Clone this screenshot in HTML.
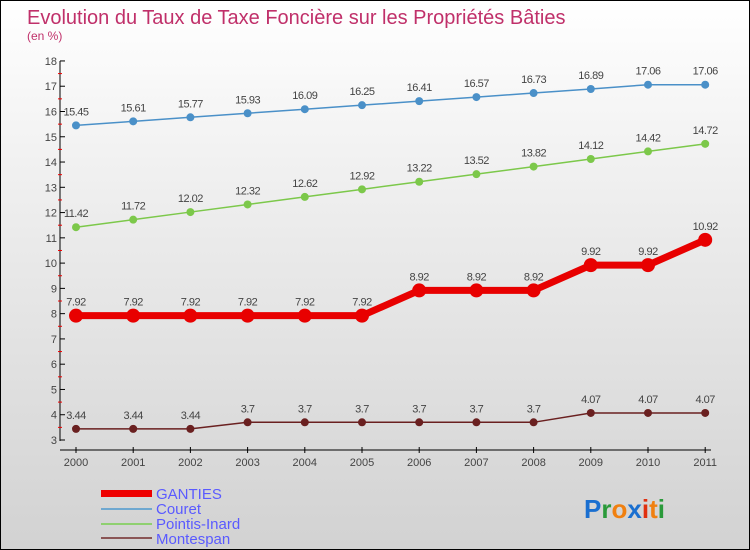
<!DOCTYPE html>
<html><head><meta charset="utf-8"><style>
body{margin:0;width:750px;height:550px;overflow:hidden;font-family:"Liberation Sans",sans-serif}
#wrap{position:relative;width:748px;height:548px;border:1px solid #000;background:linear-gradient(#fff 0%,#ececec 40%,#d2d2d2 100%)}
</style></head><body>
<div id="wrap">
<svg id="chart" width="748" height="548" style="position:absolute;left:0;top:0">
<text x="26" y="23" font-size="20" fill="#c0306a">Evolution du Taux de Taxe Foncière sur les Propriétés Bâties</text>
<text x="26" y="39" font-size="12" fill="#c0306a">(en %)</text>
<g id="axes"></g><g id="series"></g>
<g>
<rect x="100" y="489" width="51" height="7" fill="#e00"/>
<text x="155" y="498" font-size="15" fill="#5a5aff">GANTIES</text>
<rect x="100" y="507" width="51" height="2" fill="#6fa8d0"/>
<text x="155" y="513" font-size="15" fill="#5a5aff">Couret</text>
<rect x="100" y="522" width="51" height="2" fill="#8fd070"/>
<text x="155" y="528" font-size="15" fill="#5a5aff">Pointis-Inard</text>
<rect x="100" y="536" width="51" height="2" fill="#8a5555"/>
<text x="155" y="543" font-size="15" fill="#5a5aff">Montespan</text>
</g>
<text x="583" y="517" font-size="26" font-weight="bold"><tspan fill="#1a6fd0">P</tspan><tspan fill="#2a9a3a">r</tspan><tspan fill="#f08010">o</tspan><tspan fill="#1a6fd0">x</tspan><tspan fill="#e03010">i</tspan><tspan fill="#f08010">t</tspan><tspan fill="#2a9a3a">i</tspan></text>
</svg></div>
<script>
const years=[2000,2001,2002,2003,2004,2005,2006,2007,2008,2009,2010,2011];
const couret=[15.45,15.61,15.77,15.93,16.09,16.25,16.41,16.57,16.73,16.89,17.06,17.06];
const pointis=[11.42,11.72,12.02,12.32,12.62,12.92,13.22,13.52,13.82,14.12,14.42,14.72];
const ganties=[7.92,7.92,7.92,7.92,7.92,7.92,8.92,8.92,8.92,9.92,9.92,10.92];
const montespan=[3.44,3.44,3.44,3.7,3.7,3.7,3.7,3.7,3.7,4.07,4.07,4.07];
const yTicks=[3,4,5,6,7,8,9,10,11,12,13,14,15,16,17,18];
const NS="http://www.w3.org/2000/svg";
const xs=i=>75+i*57.2;
const ys=v=>439-(v-3)*25.27;
function mk(p,t,a){const e=document.createElementNS(NS,t);for(const k in a)e.setAttribute(k,a[k]);p.appendChild(e);return e;}
const ax=document.getElementById('axes');
let l=mk(ax,'line',{x1:59,y1:60,x2:59,y2:440,stroke:'#000'});


l=mk(ax,'line',{x1:59,y1:449,x2:710,y2:449,stroke:'#000'});


yTicks.forEach(v=>{
  mk(ax,'line',{x1:59,y1:ys(v),x2:64,y2:ys(v),stroke:'#000'});
  if(v<18)mk(ax,'line',{x1:57,y1:ys(v+0.5),x2:61,y2:ys(v+0.5),stroke:'#e00'});
  const t=mk(ax,'text',{x:56,y:ys(v)+4,'font-size':11,fill:'#444','text-anchor':'end'});
  t.textContent=v;
  
  
});
years.forEach((y,i)=>{
  mk(ax,'line',{x1:xs(i),y1:446,x2:xs(i),y2:452,stroke:'#000'});
  const t=mk(ax,'text',{x:xs(i),y:465,'font-size':11,fill:'#444','text-anchor':'middle'});
  t.textContent=y;
  
  
});
const sg=document.getElementById('series');
function series(data,color,w,r,name){
  const g=mk(sg,'g',{});
  
  
  const pl=mk(g,'polyline',{points:data.map((v,i)=>xs(i)+','+ys(v)).join(' '),fill:'none',stroke:color,'stroke-width':w});
  
  
  data.forEach((v,i)=>{
    const c=mk(g,'circle',{cx:xs(i),cy:ys(v),r:r,fill:color});
    
    
    const t=mk(g,'text',{x:xs(i),y:ys(v)-10,'font-size':11,fill:'#444','text-anchor':'middle','letter-spacing':'-0.5'});
    t.textContent=v;
    
    
  });
}
series(couret,'#4a90c8',1.5,4,'couret');
series(pointis,'#7cc84a',1.5,4,'pointis-inard');
series(ganties,'#e80000',7,7,'ganties');
series(montespan,'#6a2020',1.5,4,'montespan');
</script>
</body></html>
